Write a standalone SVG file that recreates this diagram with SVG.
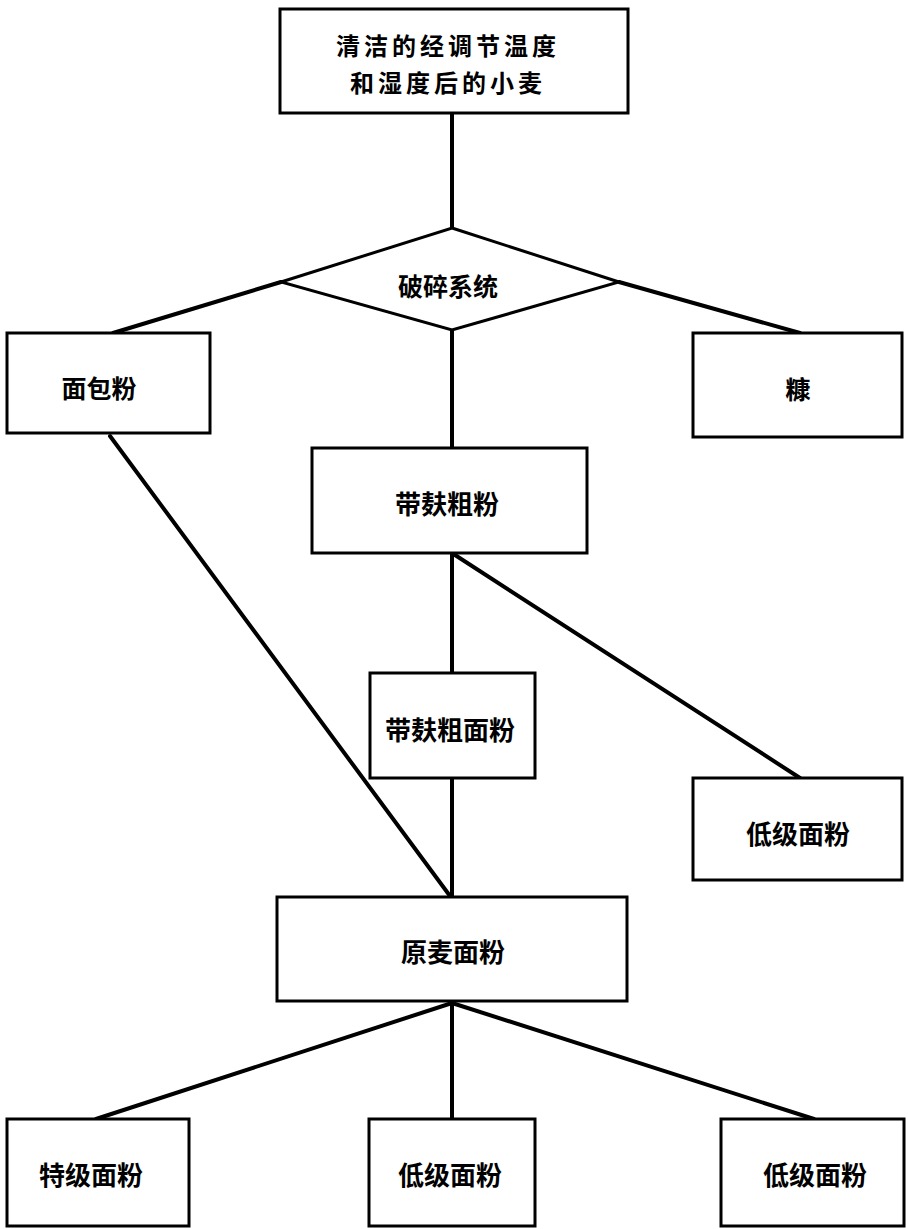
<svg xmlns="http://www.w3.org/2000/svg" width="908" height="1229" viewBox="0 0 908 1229">
<style>
.box{fill:#fff;stroke:#000;stroke-width:3}
.t{font-family:"Noto Sans CJK SC","Noto Sans CJK TC",sans-serif;font-weight:bold;font-size:26px;fill:#000;text-anchor:middle;dominant-baseline:central}
.c{stroke:#000;stroke-width:4;fill:none;stroke-linecap:round}
.top{font-size:24px;letter-spacing:4px}
</style>
<rect width="908" height="1229" fill="#fff"/>
<g id="connectors">
<line class="c" x1="452" y1="113" x2="452" y2="228"/>
<line class="c" x1="281" y1="282" x2="113" y2="333"/>
<line class="c" x1="619" y1="282" x2="800" y2="333"/>
<line class="c" x1="452" y1="330" x2="452" y2="448"/>
<line class="c" x1="110" y1="436" x2="450" y2="896"/>
<line class="c" x1="452" y1="553" x2="452" y2="673"/>
<line class="c" x1="455" y1="555" x2="800" y2="778"/>
<line class="c" x1="452" y1="778" x2="452" y2="897"/>
<line class="c" x1="452" y1="1003" x2="96" y2="1119"/>
<line class="c" x1="452" y1="1003" x2="452" y2="1119"/>
<line class="c" x1="452" y1="1003" x2="814" y2="1119"/>
</g>
<g id="n1"><rect class="box" x="280" y="9" width="348" height="104"/><text class="t top" x="448" y="44">清洁的经调节温度</text><text class="t top" x="448" y="81">和湿度后的小麦</text></g>
<g id="n2"><polygon class="box" points="452,228 619,282 452,330 281,282"/><text class="t" x="448" y="285" style="font-size:25px">破碎系统</text></g>
<g id="n3"><rect class="box" x="7" y="333" width="203" height="100"/><text class="t" x="99" y="387" style="font-size:25px">面包粉</text></g>
<g id="n4"><rect class="box" x="693" y="333" width="209" height="104"/><text class="t" x="798" y="388" style="font-size:25px">糠</text></g>
<g id="n5"><rect class="box" x="312" y="448" width="275" height="105"/><text class="t" x="447" y="502">带麸粗粉</text></g>
<g id="n6"><rect class="box" x="370" y="673" width="165" height="105"/><text class="t" x="450" y="728">带麸粗面粉</text></g>
<g id="n7"><rect class="box" x="693" y="778" width="209" height="102"/><text class="t" x="798" y="832">低级面粉</text></g>
<g id="n8"><rect class="box" x="277" y="897" width="350" height="104"/><text class="t" x="453" y="950">原麦面粉</text></g>
<g id="n9"><rect class="box" x="7" y="1119" width="182" height="107"/><text class="t" x="91" y="1173">特级面粉</text></g>
<g id="n10"><rect class="box" x="369" y="1119" width="166" height="107"/><text class="t" x="450" y="1173">低级面粉</text></g>
<g id="n11"><rect class="box" x="721" y="1119" width="183" height="107"/><text class="t" x="815" y="1173">低级面粉</text></g>
</svg>
